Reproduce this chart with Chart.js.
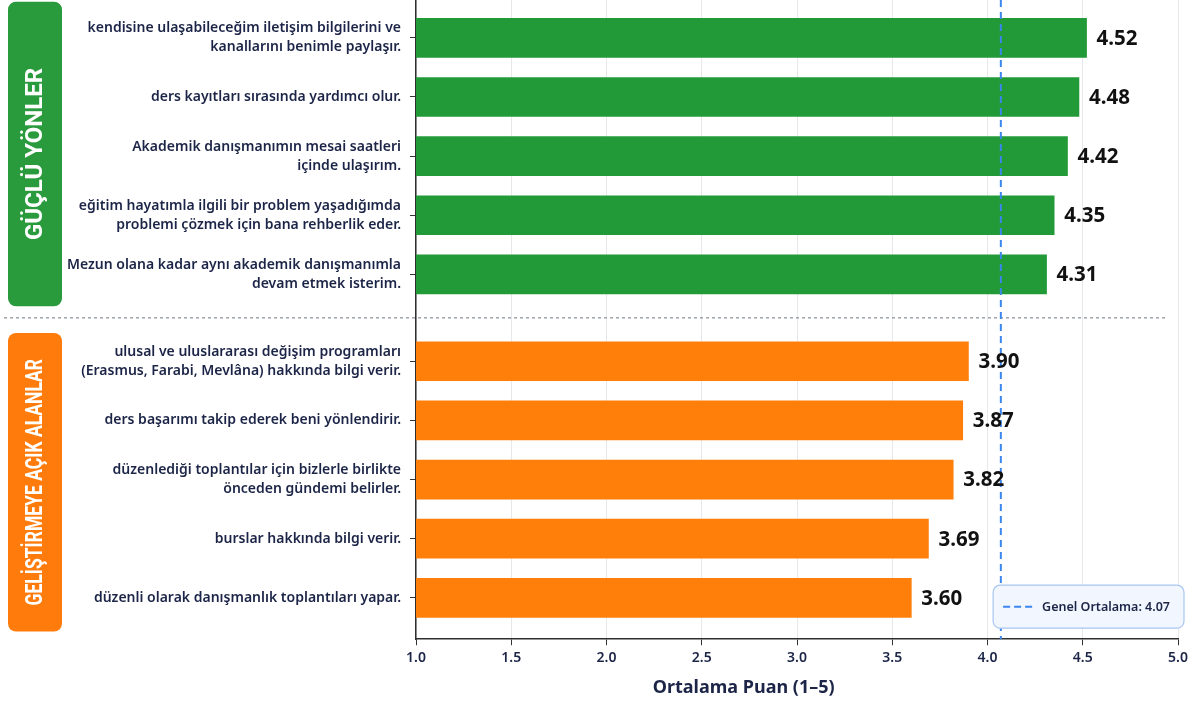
<!DOCTYPE html>
<html lang="tr">
<head>
<meta charset="utf-8">
<title>Akademik Danışmanlık – Ortalama Puanlar</title>
<script src="https://cdn.jsdelivr.net/npm/chart.js@4.4.1/dist/chart.umd.min.js"></script>
<style>
  html, body { margin: 0; padding: 0; background: #fff; }
  #wrap { width: 1202px; height: 706px; position: relative; }
</style>
</head>
<body>
<div id="wrap"><canvas id="puanChart"></canvas></div>
<script>
// Güçlü yönler
const strongLabels = [
  ['kendisine ulaşabileceğim iletişim bilgilerini ve', 'kanallarını benimle paylaşır.'],
  ['ders kayıtları sırasında yardımcı olur.'],
  ['Akademik danışmanımın mesai saatleri', 'içinde ulaşırım.'],
  ['eğitim hayatımla ilgili bir problem yaşadığımda', 'problemi çözmek için bana rehberlik eder.'],
  ['Mezun olana kadar aynı akademik danışmanımla', 'devam etmek isterim.']
];
const strongValues = [4.52, 4.48, 4.42, 4.35, 4.31];

// Geliştirmeye açık alanlar
const weakLabels = [
  ['ulusal ve uluslararası değişim programları', '(Erasmus, Farabi, Mevlâna) hakkında bilgi verir.'],
  ['ders başarımı takip ederek beni yönlendirir.'],
  ['düzenlediği toplantılar için bizlerle birlikte', 'önceden gündemi belirler.'],
  ['burslar hakkında bilgi verir.'],
  ['düzenli olarak danışmanlık toplantıları yapar.']
];
const weakValues = [3.90, 3.87, 3.82, 3.69, 3.60];

const groupNames = ['GÜÇLÜ YÖNLER', 'GELİŞTİRMEYE AÇIK ALANLAR'];
const xTicks = [1.0, 1.5, 2.0, 2.5, 3.0, 3.5, 4.0, 4.5, 5.0];
const overallMean = 4.07;
const xTitle = 'Ortalama Puan (1–5)';

const GREEN = '#239a38';
const ORANGE = '#ff7f0a';
const NAVY = '#1c2547';
const FONT = "'Noto Sans', 'Open Sans', sans-serif";

// gap between the two groups, in bar slots
const GROUP_GAP = 0.47;
const allLabels = strongLabels.concat(weakLabels);
const slotPos = allLabels.map((_, i) => i < strongLabels.length ? i : i + GROUP_GAP);

const strongData = strongValues.map((v, i) => ({ x: v, y: slotPos[i] }));
const weakData = weakValues.map((v, i) => ({ x: v, y: slotPos[i + strongLabels.length] }));

function roundRect(ctx, x, y, w, h, r) {
  ctx.beginPath();
  ctx.moveTo(x + r, y);
  ctx.arcTo(x + w, y, x + w, y + h, r);
  ctx.arcTo(x + w, y + h, x, y + h, r);
  ctx.arcTo(x, y + h, x, y, r);
  ctx.arcTo(x, y, x + w, y, r);
  ctx.closePath();
}

const decorPlugin = {
  id: 'decor',
  beforeDatasetsDraw(chart) {
    const { ctx, chartArea, scales: { y } } = chart;
    const n = strongLabels.length;
    const sepY = y.getPixelForValue((slotPos[n - 1] + slotPos[n]) / 2);
    ctx.save();
    ctx.strokeStyle = '#9ea3ab';
    ctx.lineWidth = 1.5;
    ctx.setLineDash([3, 3]);
    ctx.beginPath();
    ctx.moveTo(4, sepY);
    ctx.lineTo(chartArea.right - 10, sepY);
    ctx.stroke();
    ctx.restore();
  },
  afterDatasetsDraw(chart) {
    const { ctx, chartArea, scales: { x } } = chart;

    // genel ortalama çizgisi
    const mx = x.getPixelForValue(overallMean);
    ctx.save();
    ctx.strokeStyle = '#3d86ee';
    ctx.lineWidth = 2;
    ctx.setLineDash([7, 5]);
    ctx.beginPath();
    ctx.moveTo(mx, chartArea.top);
    ctx.lineTo(mx, chartArea.bottom);
    ctx.stroke();
    ctx.restore();

    // değer etiketleri
    ctx.save();
    ctx.font = 'bold 20.5px ' + FONT;
    ctx.fillStyle = '#111';
    ctx.textAlign = 'left';
    ctx.textBaseline = 'middle';
    chart.data.datasets.forEach((ds, di) => {
      chart.getDatasetMeta(di).data.forEach((bar, i) => {
        ctx.fillText(ds.data[i].x.toFixed(2), bar.x + 10, bar.y + 1);
      });
    });
    ctx.restore();

    // lejant kutusu
    const text = 'Genel Ortalama: ' + overallMean.toFixed(2);
    ctx.save();
    ctx.font = '600 12.5px ' + FONT;
    const tw = ctx.measureText(text).width;
    const bw = 10 + 30 + 9 + tw + 14, bh = 43;
    const bx = chartArea.right + 6 - bw, by = chartArea.bottom - 11 - bh;
    roundRect(ctx, bx, by, bw, bh, 7);
    ctx.fillStyle = '#f1f6ff';
    ctx.fill();
    ctx.strokeStyle = '#a8c6f0';
    ctx.lineWidth = 1.2;
    ctx.stroke();
    ctx.strokeStyle = '#3d86ee';
    ctx.lineWidth = 2;
    ctx.setLineDash([7, 4]);
    ctx.beginPath();
    ctx.moveTo(bx + 10, by + bh / 2);
    ctx.lineTo(bx + 40, by + bh / 2);
    ctx.stroke();
    ctx.fillStyle = NAVY;
    ctx.textBaseline = 'middle';
    ctx.fillText(text, bx + 49, by + bh / 2 + 1);
    ctx.restore();
  },
  afterDraw(chart) {
    const { ctx, chartArea, scales: { y } } = chart;
    const n = strongLabels.length;

    // yan şeritler
    const groups = [
      { from: slotPos[0], to: slotPos[n - 1], padTop: 0.61, padBottom: 0.54, color: '#2a9b3d', name: groupNames[0] },
      { from: slotPos[n], to: slotPos[slotPos.length - 1], padTop: 0.48, padBottom: 0.57, color: '#ff7c0c', name: groupNames[1] }
    ];
    groups.forEach(g => {
      const top = y.getPixelForValue(g.from - g.padTop);
      const bottom = y.getPixelForValue(g.to + g.padBottom);
      const left = 8, w = 54;
      ctx.save();
      roundRect(ctx, left, top, w, bottom - top, 8);
      ctx.fillStyle = g.color;
      ctx.fill();
      ctx.translate(left + w / 2, (top + bottom) / 2);
      ctx.rotate(-Math.PI / 2);
      ctx.fillStyle = '#fff';
      ctx.font = 'bold 24px Roboto, ' + FONT;
      ctx.textAlign = 'center';
      ctx.textBaseline = 'middle';
      ctx.fillText(g.name, 0, 1, bottom - top - 52);
      ctx.restore();
    });

    // x ekseni başlığı
    ctx.save();
    ctx.font = 'bold 18px ' + FONT;
    ctx.fillStyle = NAVY;
    ctx.textAlign = 'center';
    ctx.textBaseline = 'middle';
    ctx.fillText(xTitle, chartArea.left + (chartArea.right - chartArea.left) * 0.43, chartArea.bottom + 49);
    ctx.restore();
  }
};

new Chart(document.getElementById('puanChart'), {
  type: 'bar',
  data: {
    datasets: [
      { label: groupNames[0], data: strongData, backgroundColor: GREEN },
      { label: groupNames[1], data: weakData, backgroundColor: ORANGE }
    ]
  },
  options: {
    indexAxis: 'y',
    responsive: true,
    maintainAspectRatio: false,
    animation: false,
    layout: { padding: { top: 0, left: 0, right: 24, bottom: 36 } },
    datasets: { bar: { grouped: false, barThickness: 39, borderWidth: 0 } },
    plugins: { legend: { display: false }, tooltip: { enabled: false } },
    scales: {
      x: {
        type: 'linear',
        min: xTicks[0],
        max: xTicks[xTicks.length - 1],
        afterBuildTicks: s => { s.ticks = xTicks.map(v => ({ value: v })); },
        ticks: {
          callback: v => v.toFixed(1),
          color: NAVY,
          font: { family: FONT, size: 14, weight: '600' },
          padding: 4
        },
        grid: { color: '#e6e8ec', lineWidth: 1, tickColor: '#333', tickLength: 6 },
        border: { display: true, color: '#2e2e2e', width: 1.5 }
      },
      y: {
        type: 'linear',
        reverse: true,
        offset: false,
        min: -0.64,
        max: slotPos[slotPos.length - 1] + 0.7,
        afterBuildTicks: s => { s.ticks = slotPos.map(v => ({ value: v })); },
        afterFit: s => { s.width = 416; s.paddingTop = 0; s.paddingBottom = 0; },
        ticks: {
          autoSkip: false,
          callback: (v, i) => allLabels[i],
          color: NAVY,
          font: { family: FONT, size: 14, weight: '600', lineHeight: 1.36 },
          padding: 9
        },
        grid: { offset: false, drawOnChartArea: false, tickColor: '#333', tickLength: 6 },
        border: { display: true, color: '#2e2e2e', width: 1.5 }
      }
    }
  },
  plugins: [decorPlugin]
});
</script>
</body>
</html>
